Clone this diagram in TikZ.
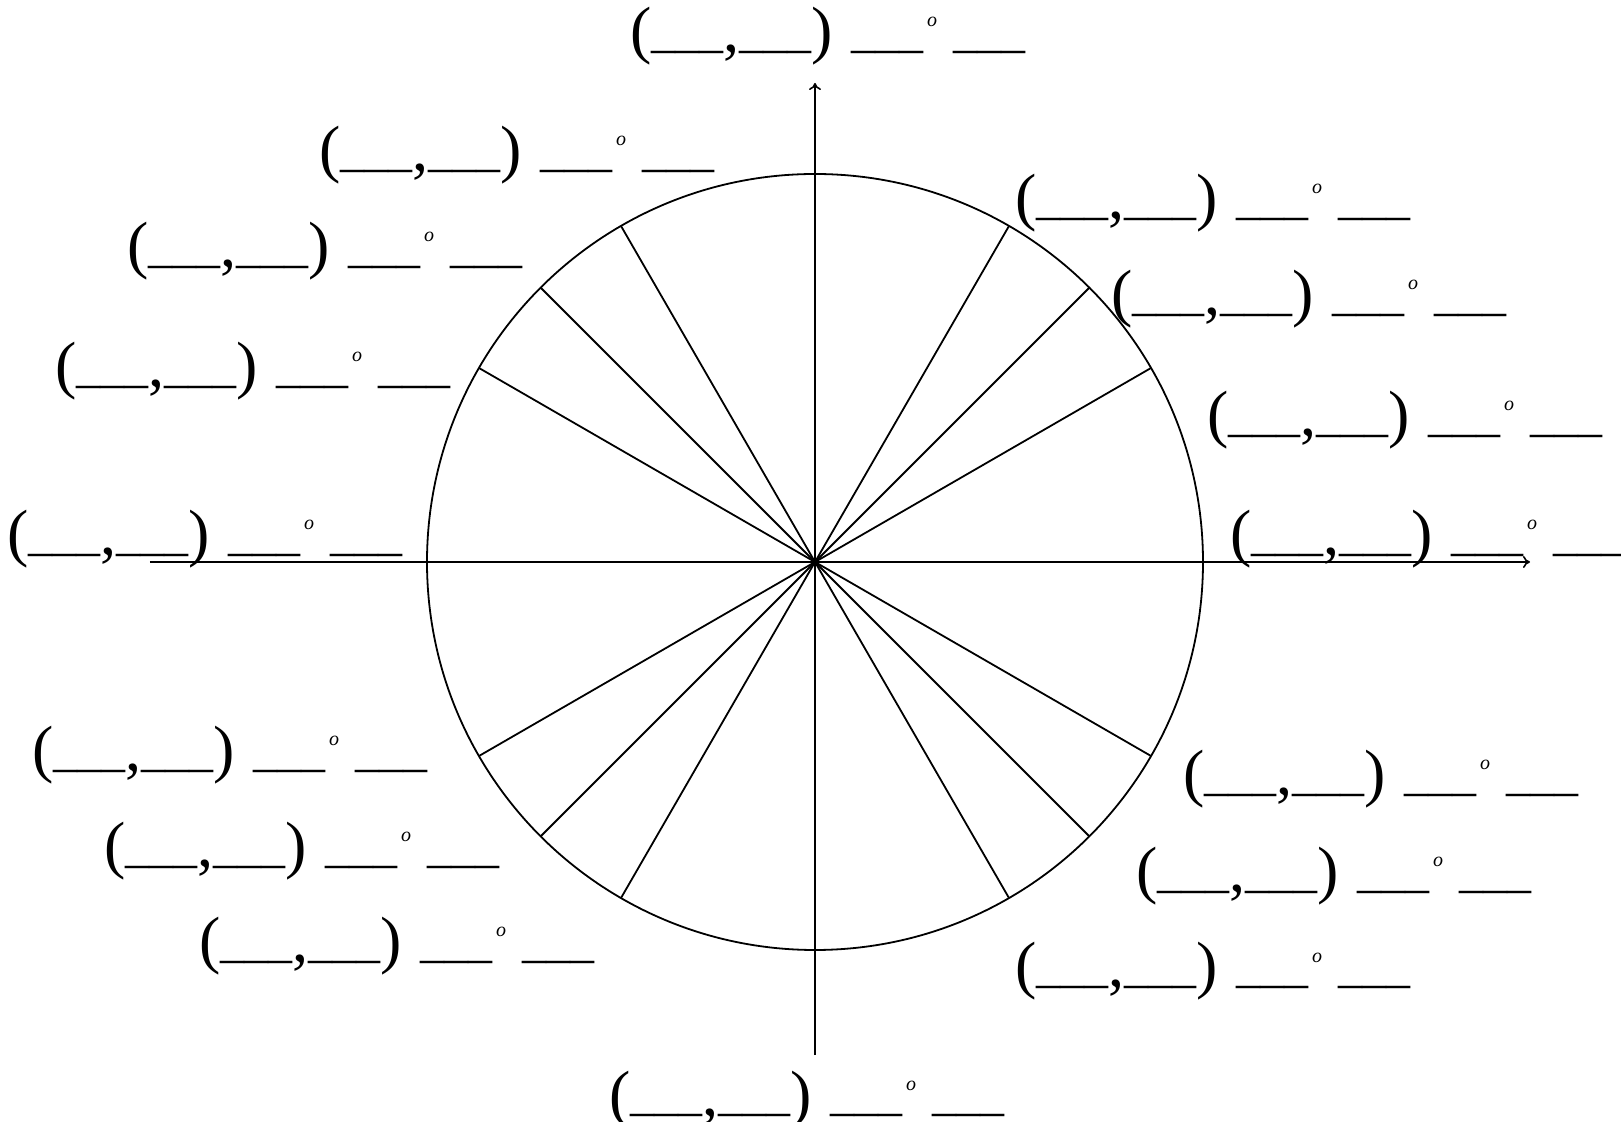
\documentclass[tikz,border=0pt]{standalone}
\usepackage{fontspec}
\setmainfont{Liberation Serif}
\usetikzlibrary{arrows.meta}

\newcommand{\blankpart}{\raisebox{2.4pt}{\fontsize{24}{24}\selectfont\_\_\_}}
\newcommand{\degreemark}{\hspace{2pt}\raisebox{12.5pt}{\fontsize{10}{10}\selectfont\itshape o}\hspace{8pt}}
\newcommand{\pointlabel}{(\blankpart,\blankpart)\hspace{9pt}\blankpart\degreemark\blankpart}

\tikzset{
  answerbox/.style={inner sep=0pt, anchor=base west, xshift=-1.5pt,
    font=\fontsize{32}{32}\selectfont},
  spoke/.style={line width=0.9pt},
  axisline/.style={line width=0.8pt, -{To[length=3.5pt,width=6pt]}}
}

\begin{document}
\begin{tikzpicture}[x=0.5pt,y=0.5pt]
      \useasboundingbox (-815,-560) rectangle (806,562);
      \coordinate (O) at (0,0);
      \coordinate (xmin) at (-665,0);
      \coordinate (xmax) at (715,0);
      \coordinate (ymin) at (0,-493);
      \coordinate (ymax) at (0,479);

      % axes and unit circle
      \draw[axisline] (xmin) -- (xmax);
      \draw[axisline] (ymin) -- (ymax);
      \draw[spoke] (O) circle[radius=388];
      \foreach\a in {30,45,60,120,135,150,210,225,240,300,315,330}
      {\draw[spoke] (O) -- (\a:388);}

      % blanks for each angle
      \foreach\a\x\y in {0/418/7, 30/395/126, 45/299/247, 60/203/343,
        90/-182/510, 120/-493/391, 135/-685/295, 150/-757/175,
        180/-805/7, 210/-780/-209, 225/-708/-305, 240/-613/-400,
        270/-203/-553, 300/203/-425, 315/324/-330, 330/371/-233}
      {\node[answerbox] (lbl\a) at (\x,\y) {\pointlabel};}
\end{tikzpicture}
\end{document}
